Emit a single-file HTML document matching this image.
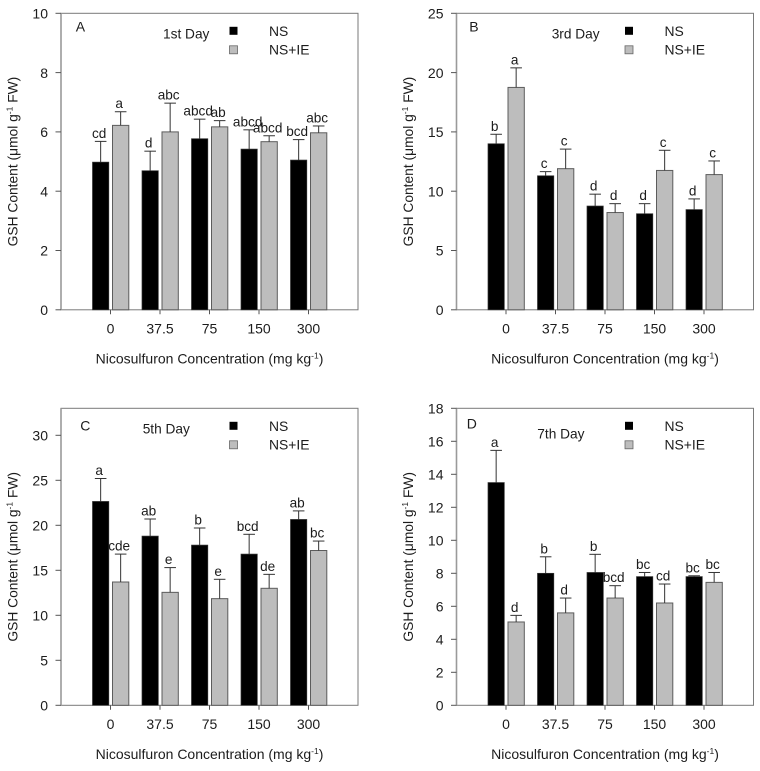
<!DOCTYPE html>
<html>
<head>
<meta charset="utf-8">
<title>GSH Content Panels</title>
<style>
html,body{margin:0;padding:0;background:#fff;}
svg{display:block;filter:blur(0.3px);}
text{font-family:"Liberation Sans",Arial,sans-serif;fill:#1c1c1c;}
</style>
</head>
<body>
<svg id="chart" xmlns="http://www.w3.org/2000/svg" width="760" height="771" viewBox="0 0 760 771"></svg>
<script>
const categories = ['0', '37.5', '75', '150', '300'];

const panelANs = [4.98, 4.69, 5.77, 5.42, 5.05];
const panelAIe = [6.22, 6.0, 6.17, 5.67, 5.97];
const panelANsErr = [0.70, 0.66, 0.66, 0.65, 0.69];
const panelAIeErr = [0.46, 0.97, 0.21, 0.20, 0.23];
const panelANsLetters = ['cd', 'd', 'abcd', 'abcd', 'bcd'];
const panelAIeLetters = ['a', 'abc', 'ab', 'abcd', 'abc'];
const panelATicks = [0, 2, 4, 6, 8, 10];

const panelBNs = [14.0, 11.3, 8.75, 8.1, 8.45];
const panelBIe = [18.75, 11.9, 8.2, 11.75, 11.4];
const panelBNsErr = [0.8, 0.35, 1.0, 0.85, 0.9];
const panelBIeErr = [1.65, 1.65, 0.75, 1.7, 1.15];
const panelBNsLetters = ['b', 'c', 'd', 'd', 'd'];
const panelBIeLetters = ['a', 'c', 'd', 'c', 'c'];
const panelBTicks = [0, 5, 10, 15, 20, 25];

const panelCNs = [22.65, 18.8, 17.8, 16.8, 20.65];
const panelCIe = [13.7, 12.55, 11.85, 13.0, 17.2];
const panelCNsErr = [2.55, 1.9, 1.9, 2.2, 0.95];
const panelCIeErr = [3.1, 2.75, 2.15, 1.55, 1.05];
const panelCNsLetters = ['a', 'ab', 'b', 'bcd', 'ab'];
const panelCIeLetters = ['cde', 'e', 'e', 'de', 'bc'];
const panelCTicks = [0, 5, 10, 15, 20, 25, 30];

const panelDNs = [13.5, 8.0, 8.05, 7.8, 7.8];
const panelDIe = [5.05, 5.6, 6.5, 6.2, 7.45];
const panelDNsErr = [1.95, 1.0, 1.1, 0.25, 0.05];
const panelDIeErr = [0.4, 0.9, 0.75, 1.15, 0.6];
const panelDNsLetters = ['a', 'b', 'b', 'bc', 'bc'];
const panelDIeLetters = ['d', 'd', 'bcd', 'cd', 'bc'];
const panelDTicks = [0, 2, 4, 6, 8, 10, 12, 14, 16, 18];

const svg = document.getElementById('chart');
const NS = 'http://www.w3.org/2000/svg';

function mk(tag, attrs, parent) {
  const el = document.createElementNS(NS, tag);
  for (const k in attrs) el.setAttribute(k, attrs[k]);
  parent.appendChild(el);
  return el;
}

function drawPanel(p) {
  const id = p.id.toLowerCase();
  const g = mk('g', {}, svg);
  
  

  const L = p.left, R = p.left + 297, T = p.top, B = p.top + p.height;
  const y = v => B - (v / p.yMax) * p.height;
  const x = i => L + 49.5 * (i + 1);

  const frame = mk('rect', {x: L, y: T, width: R - L, height: B - T, fill: '#fff', stroke: '#7a7a7a', 'stroke-width': 1}, g);
  
  

  const leftAxis = mk('line', {x1: L, x2: L, y1: T, y2: B, stroke: '#9a9a9a', 'stroke-width': 1.6}, g);
  
  

  p.ticks.forEach(t => {
    const tick = mk('line', {x1: L - 5.5, x2: L, y1: y(t), y2: y(t), stroke: '#555', 'stroke-width': 1}, g);
    
    
    const lab = mk('text', {x: L - 13, y: y(t) + 5.2, 'text-anchor': 'end', 'font-size': 14}, g);
    lab.textContent = t;
    
    
  });

  categories.forEach((c, i) => {
    const cx = x(i);
    const barNs = mk('rect', {x: cx - 18, y: y(p.ns[i]), width: 16.3, height: B - y(p.ns[i]), fill: '#000', stroke: '#333', 'stroke-width': 0.7}, g);
    
    
    const barIe = mk('rect', {x: cx + 2, y: y(p.ie[i]), width: 16.3, height: B - y(p.ie[i]), fill: '#bdbdbd', stroke: '#5c5c5c', 'stroke-width': 1}, g);
    
    

    [[p.ns, p.nsErr, p.nsLetters, cx - 9.85, 'ns'], [p.ie, p.ieErr, p.ieLetters, cx + 10.15, 'ns-ie']].forEach(s => {
      const top = s[0][i] + s[1][i];
      const ex = s[3];
      const stem = mk('line', {x1: ex, x2: ex, y1: y(s[0][i]), y2: y(top), stroke: '#333', 'stroke-width': 1}, g);
      
      
      const cap = mk('line', {x1: ex - 5.8, x2: ex + 5.8, y1: y(top), y2: y(top), stroke: '#333', 'stroke-width': 1}, g);
      
      
      const letter = mk('text', {x: ex - 1.5, y: y(top) - 3.5, 'text-anchor': 'middle', 'font-size': 13.6}, g);
      letter.textContent = s[2][i];
      
      
    });

    const xt = mk('line', {x1: cx, x2: cx, y1: B, y2: B + 4.5, stroke: '#555', 'stroke-width': 1}, g);
    
    
    const xl = mk('text', {x: cx, y: B + 23.7, 'text-anchor': 'middle', 'font-size': 14}, g);
    xl.textContent = c;
    
    
  });

  const xTitle = mk('text', {x: L + 148.5, y: B + 53.7, 'text-anchor': 'middle', 'font-size': 14}, g);
  
  
  xTitle.appendChild(document.createTextNode('Nicosulfuron Concentration (mg kg'));
  mk('tspan', {dy: -5, 'font-size': 8.5}, xTitle).textContent = '-1';
  mk('tspan', {dy: 5}, xTitle).textContent = ')';

  const cy = (T + B) / 2;
  const yTitle = mk('text', {x: L - 43.5, y: cy, 'text-anchor': 'middle', 'font-size': 13.8, transform: 'rotate(-90 ' + (L - 43.5) + ' ' + cy + ')'}, g);
  
  
  yTitle.appendChild(document.createTextNode('GSH Content (\u03BCmol g'));
  mk('tspan', {dy: -5, 'font-size': 8.5}, yTitle).textContent = '-1';
  mk('tspan', {dy: 5}, yTitle).textContent = ' FW)';

  const letterEl = mk('text', {x: p.letterX, y: p.letterY, 'font-size': 14}, g);
  letterEl.textContent = p.id;
  
  

  const day = mk('text', {x: p.dayX, y: p.dayY, 'font-size': 13.7}, g);
  day.textContent = p.day;
  
  

  const sw1 = mk('rect', {x: L + 168.5, y: T + 13.5, width: 8, height: 8, fill: '#000'}, g);
  
  
  const lt1 = mk('text', {x: L + 208, y: T + 22.5, 'font-size': 13.9}, g);
  lt1.textContent = 'NS';
  
  
  const sw2 = mk('rect', {x: L + 168.5, y: T + 32.5, width: 8, height: 8, fill: '#bdbdbd', stroke: '#666', 'stroke-width': 0.8}, g);
  
  
  const lt2 = mk('text', {x: L + 208, y: T + 41, 'font-size': 13.9}, g);
  lt2.textContent = 'NS+IE';
  
  
}

drawPanel({id: 'A', day: '1st Day', left: 61, top: 13.3, height: 296.5, yMax: 10, ticks: panelATicks,
  ns: panelANs, ie: panelAIe, nsErr: panelANsErr, ieErr: panelAIeErr, nsLetters: panelANsLetters, ieLetters: panelAIeLetters,
  letterX: 75.7, letterY: 31.7, dayX: 163, dayY: 38.5});
drawPanel({id: 'B', day: '3rd Day', left: 456.5, top: 13.3, height: 296.5, yMax: 25, ticks: panelBTicks,
  ns: panelBNs, ie: panelBIe, nsErr: panelBNsErr, ieErr: panelBIeErr, nsLetters: panelBNsLetters, ieLetters: panelBIeLetters,
  letterX: 469.3, letterY: 31.7, dayX: 551.7, dayY: 38.5});
drawPanel({id: 'C', day: '5th Day', left: 61, top: 408.3, height: 297, yMax: 33, ticks: panelCTicks,
  ns: panelCNs, ie: panelCIe, nsErr: panelCNsErr, ieErr: panelCIeErr, nsLetters: panelCNsLetters, ieLetters: panelCIeLetters,
  letterX: 80.3, letterY: 430.7, dayX: 142.7, dayY: 433.5});
drawPanel({id: 'D', day: '7th Day', left: 456.5, top: 408.3, height: 297, yMax: 18, ticks: panelDTicks,
  ns: panelDNs, ie: panelDIe, nsErr: panelDNsErr, ieErr: panelDIeErr, nsLetters: panelDNsLetters, ieLetters: panelDIeLetters,
  letterX: 466.7, letterY: 428.5, dayX: 537.3, dayY: 438.5});
</script>
</body>
</html>
